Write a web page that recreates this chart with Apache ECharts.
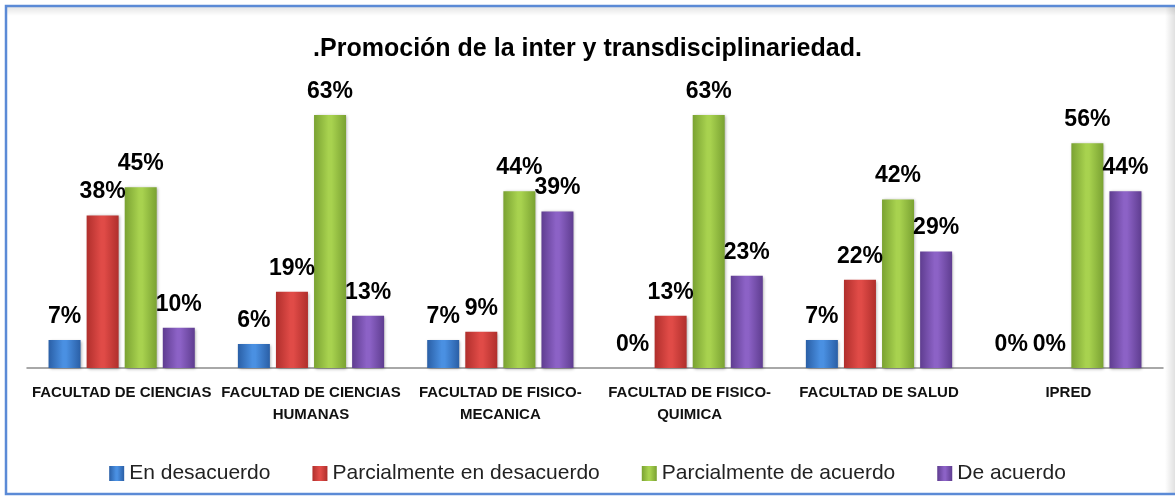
<!DOCTYPE html>
<html>
<head>
<meta charset="utf-8">
<script src="https://cdn.jsdelivr.net/npm/echarts@6/dist/echarts.min.js"></script>
<style>
  html, body { margin: 0; padding: 0; background: #fff; }
  #chart { width: 1175px; height: 496px; }
</style>
</head>
<body>
<div id="chart"></div>
<script>
// datos (porcentajes)
const categorias = [
    'FACULTAD DE CIENCIAS',
    'FACULTAD DE CIENCIAS HUMANAS',
    'FACULTAD DE FISICO-MECANICA',
    'FACULTAD DE FISICO-QUIMICA',
    'FACULTAD DE SALUD',
    'IPRED'
]
const enDesacuerdo = [7, 6, 7, 0, 7, 0]
const parcialDesacuerdo = [38, 19, 9, 13, 22, 0]
const parcialAcuerdo = [45, 63, 44, 63, 42, 56]
const deAcuerdo = [10, 13, 39, 23, 29, 44]

const fuente = 'Liberation Sans'

// degradado horizontal tipo bisel de Excel
function bisel(borde, centro) {
    return new echarts.graphic.LinearGradient(0, 0, 1, 0, [
        { offset: 0, color: borde },
        { offset: 0.45, color: centro },
        { offset: 0.55, color: centro },
        { offset: 1, color: borde }
    ])
}

function serie(nombre, datos, borde, centro) {
    return {
        name: nombre,
        type: 'bar',
        data: datos,
        barWidth: 32,
        barGap: '19%',
        itemStyle: {
            color: bisel(borde, centro),
            shadowColor: 'rgba(0,0,0,0.35)',
            shadowBlur: 3,
            shadowOffsetX: 1,
            shadowOffsetY: 1
        },
        label: {
            show: true,
            position: 'top',
            distance: 12,
            formatter: '{c}%',
            color: '#000',
            fontFamily: fuente,
            fontWeight: 'bold',
            fontSize: 23
        }
    }
}

const chart = echarts.init(document.getElementById('chart'))

chart.setOption({
    animation: false,
    backgroundColor: '#fff',
    title: {
        text: '.Promoción de la inter y transdisciplinariedad.',
        left: 'center',
        top: 32,
        textStyle: {
            fontFamily: fuente,
            fontWeight: 'bold',
            fontSize: 25,
            color: '#000'
        }
    },
    graphic: [
        // sombra interior arriba y a la derecha
        {
            type: 'rect',
            shape: { x: 7, y: 7, width: 1168, height: 9 },
            style: {
                fill: new echarts.graphic.LinearGradient(0, 0, 0, 1, [
                    { offset: 0, color: 'rgba(0,0,0,0.10)' },
                    { offset: 1, color: 'rgba(0,0,0,0)' }
                ])
            },
            silent: true
        },
        {
            type: 'rect',
            shape: { x: 1165, y: 7, width: 10, height: 486 },
            style: {
                fill: new echarts.graphic.LinearGradient(0, 0, 1, 0, [
                    { offset: 0, color: 'rgba(0,0,0,0)' },
                    { offset: 1, color: 'rgba(0,0,0,0.12)' }
                ])
            },
            silent: true
        },
        {
            type: 'rect',
            shape: { x: 6, y: 6, width: 1180, height: 488 },
            style: { fill: 'none', stroke: '#5b8ad6', lineWidth: 2.5 },
            silent: true
        }
    ],
    legend: {
        bottom: 7,
        left: 'center',
        icon: 'rect',
        itemWidth: 15,
        itemHeight: 15,
        itemGap: 42,
        textStyle: {
            fontFamily: fuente,
            fontSize: 21,
            color: '#222'
        }
    },
    grid: {
        left: 27,
        right: 12,
        top: 87,
        bottom: 128
    },
    xAxis: {
        type: 'category',
        data: categorias,
        axisLine: { lineStyle: { color: '#8c8c8c', width: 1.5 } },
        axisTick: { show: false },
        axisLabel: {
            interval: 0,
            margin: 14,
            lineHeight: 22,
            color: '#111',
            fontFamily: fuente,
            fontWeight: 'bold',
            fontSize: 15,
            formatter: function (n) {
                return n.replace('CIENCIAS HUMANAS', 'CIENCIAS\nHUMANAS').replace('FISICO-', 'FISICO-\n')
            }
        }
    },
    yAxis: {
        type: 'value',
        min: 0,
        max: 70,
        show: false
    },
    series: [
        serie('En desacuerdo', enDesacuerdo, '#2a5fa6', '#4a90e2'),
        serie('Parcialmente en desacuerdo', parcialDesacuerdo, '#b02f2c', '#e04b47'),
        serie('Parcialmente de acuerdo', parcialAcuerdo, '#7aa232', '#a8d24f'),
        serie('De acuerdo', deAcuerdo, '#5f3d90', '#8c62c6')
    ]
})
</script>
</body>
</html>
